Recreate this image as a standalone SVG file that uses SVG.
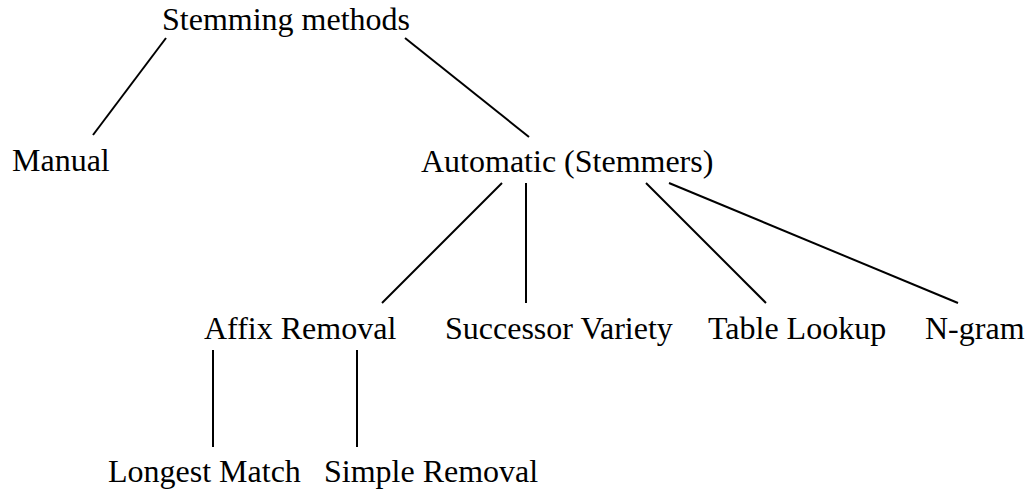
<svg xmlns="http://www.w3.org/2000/svg" width="1026" height="490" viewBox="0 0 1026 490">
<style>
text{font-family:"Liberation Serif","Times New Roman",serif;font-size:32px;fill:#000}
.c line{stroke:#000;stroke-width:2}
</style>
<rect width="1026" height="490" fill="#fff"/>
<g class="c" id="connectors">
<line x1="166" y1="38" x2="93" y2="135"/>
<line x1="405" y1="38" x2="529" y2="137"/>
<line x1="502" y1="183" x2="382" y2="303"/>
<line x1="526" y1="183" x2="526" y2="303"/>
<line x1="646" y1="183" x2="766" y2="303"/>
<line x1="669" y1="183" x2="958" y2="303"/>
<line x1="213" y1="350" x2="213" y2="447"/>
<line x1="357" y1="350" x2="357" y2="447"/>
</g>
<g id="n-root"><text x="162" y="30">Stemming methods</text></g>
<g id="n-manual"><text x="12" y="171">Manual</text></g>
<g id="n-auto"><text x="421" y="172">Automatic (Stemmers)</text></g>
<g id="n-affix"><text x="204" y="339">Affix Removal</text></g>
<g id="n-succ"><text x="445" y="339">Successor Variety</text></g>
<g id="n-table"><text x="708" y="339">Table Lookup</text></g>
<g id="n-ngram"><text x="925" y="339">N-gram</text></g>
<g id="n-longest"><text x="108" y="482">Longest Match</text></g>
<g id="n-simple"><text x="324" y="482">Simple Removal</text></g>
</svg>
